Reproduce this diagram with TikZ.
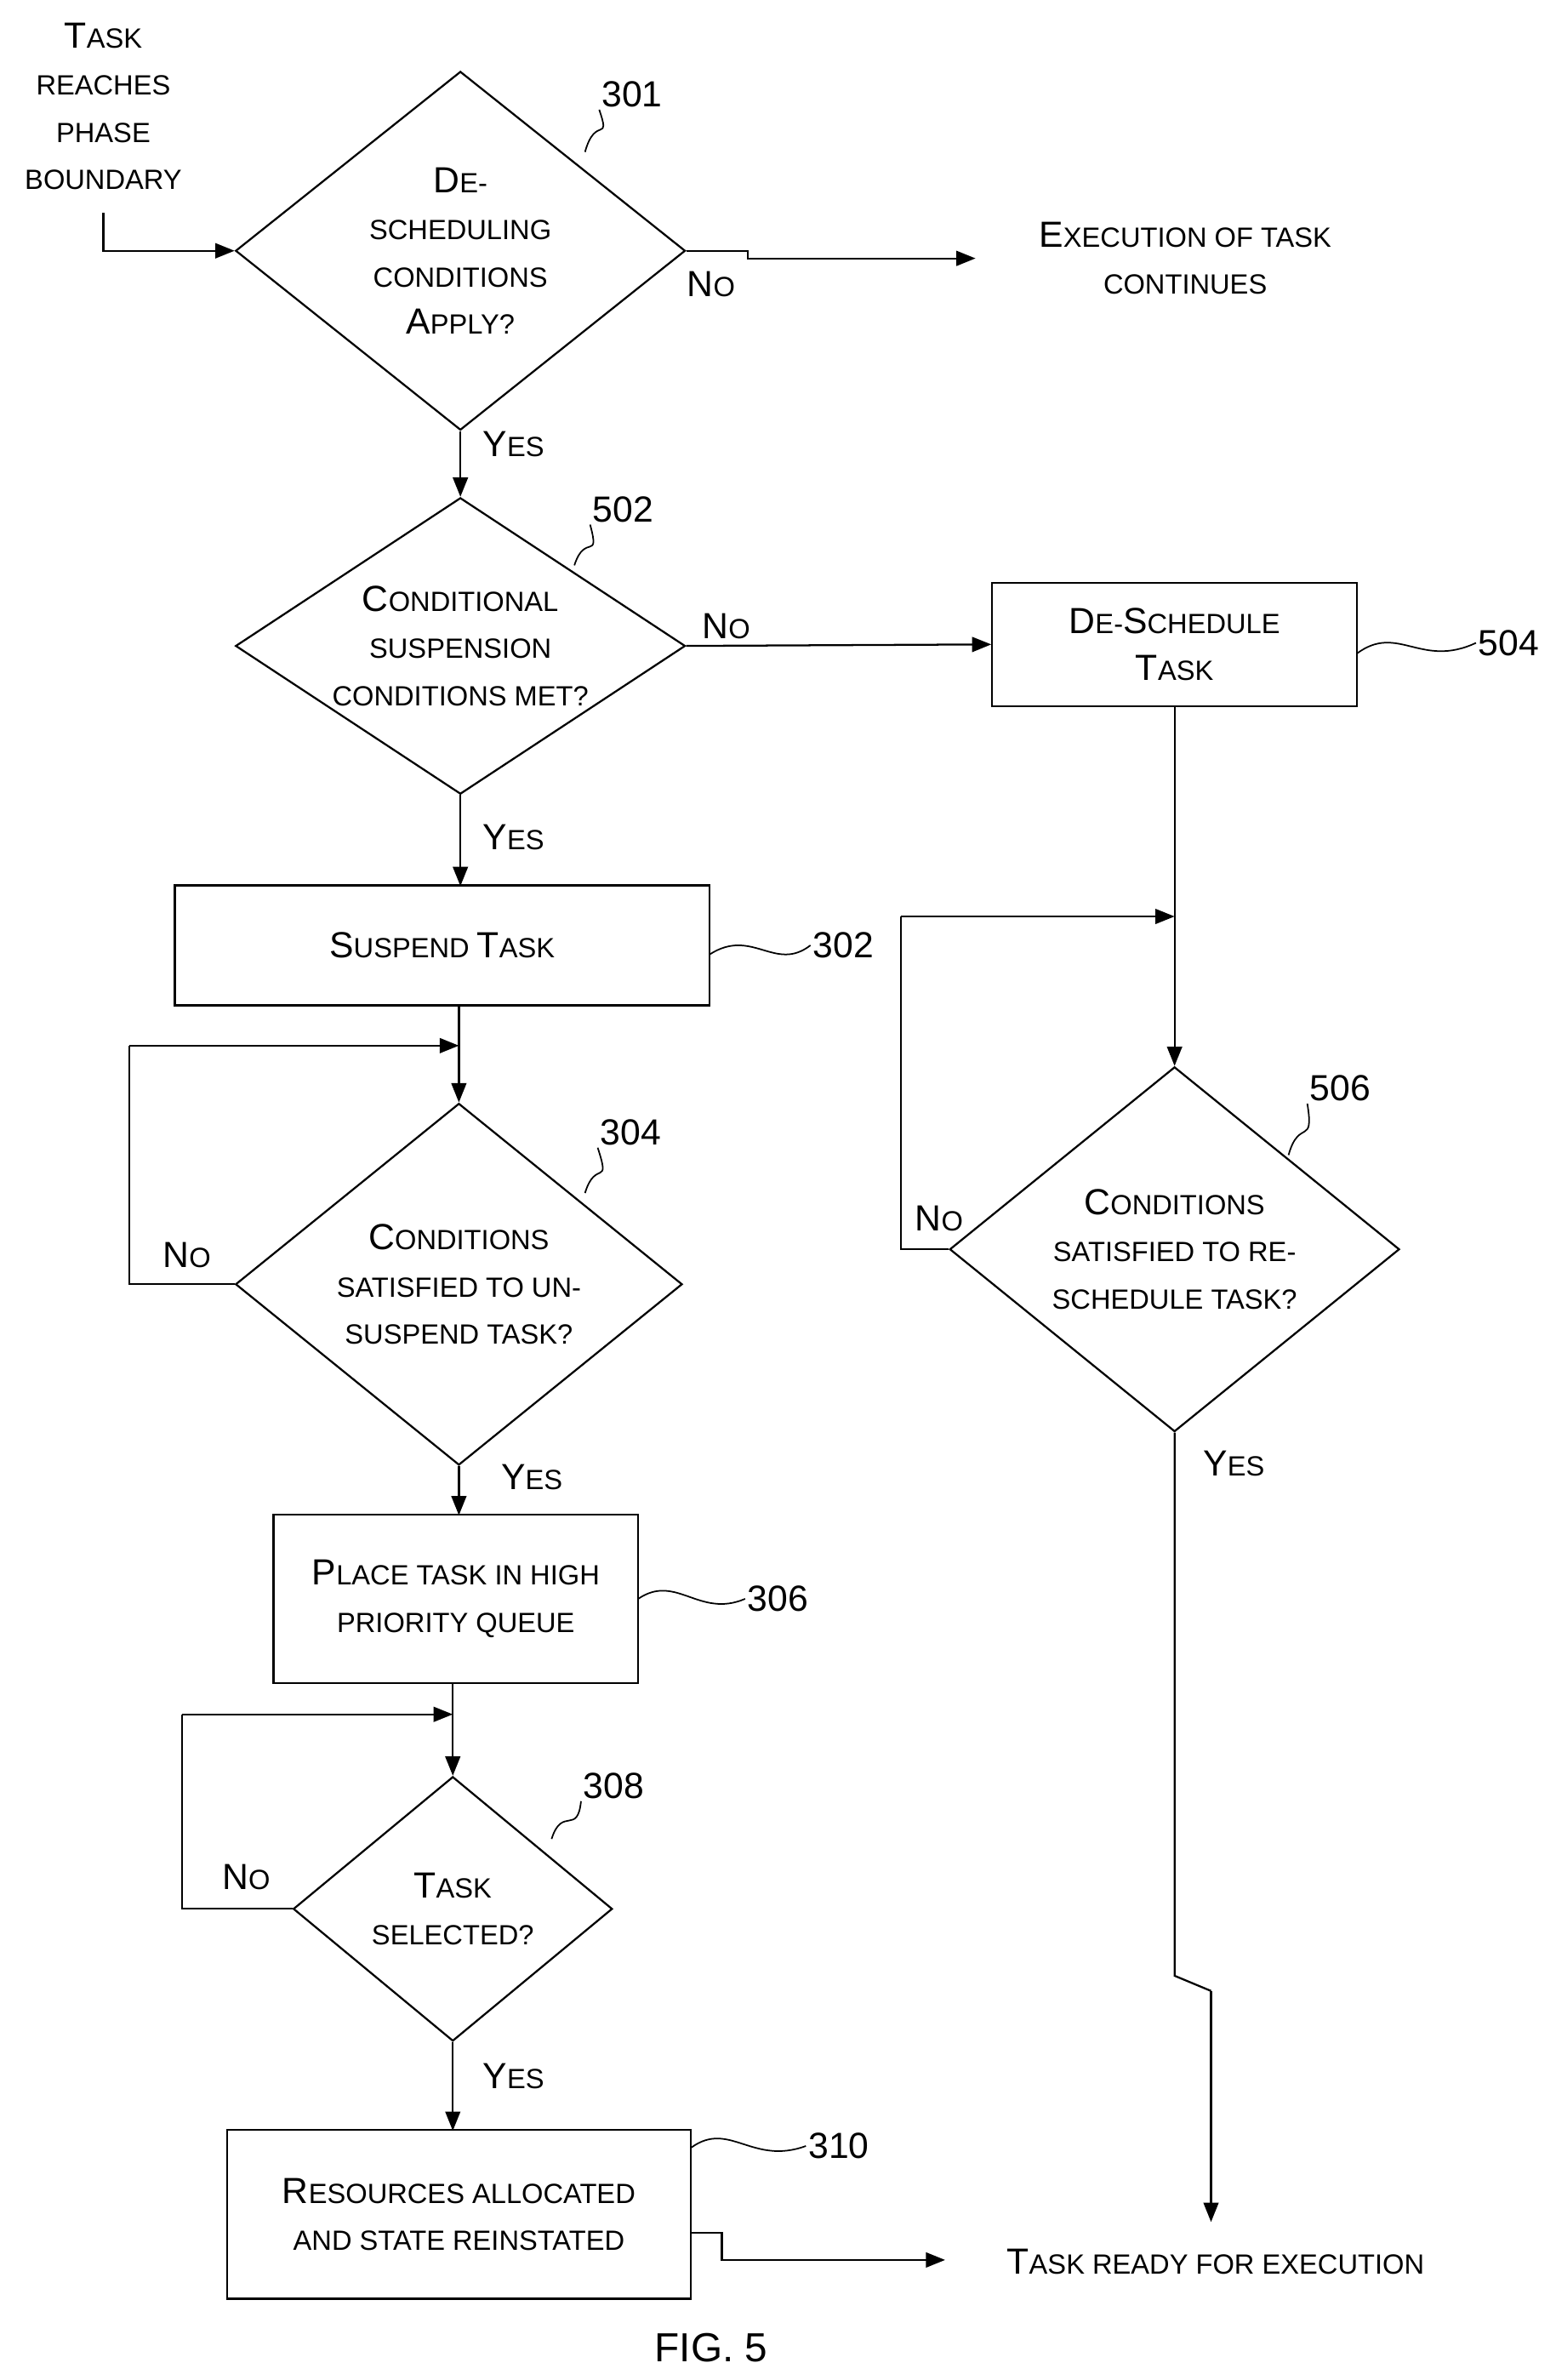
\documentclass[tikz,border=0pt]{standalone}
\usepackage{fontspec}
\setmainfont{Liberation Sans}
\usetikzlibrary{shapes.geometric,arrows.meta}
\newcommand{\C}[1]{{\fontsize{17}{22}\selectfont #1}}
\tikzset{
  lbl/.style={font=\fontsize{13}{22}\selectfont, align=center, inner sep=1pt},
  dia/.style={draw, shape=diamond, inner sep=0pt, line width=0.9pt},
  box/.style={draw, line width=0.9pt},
  flow/.style={-{Triangle[length=9pt,width=7pt]}, line width=0.9pt},
  line/.style={line width=0.9pt},
  wig/.style={line width=0.7pt}
}
\begin{document}
\begin{tikzpicture}[x=0.025cm,y=-0.025cm]
\useasboundingbox (0,0) rectangle (1024,1566);
% start
\node [lbl,name=start] at (68,70){\C{T}ASK\\REACHES\\PHASE\\BOUNDARY};
\node [dia,name=d301,minimum width=296*0.025cm,minimum height=236*0.025cm] at (303,165){};
\node [lbl] at (303,165){\C{D}E-\\SCHEDULING\\CONDITIONS\\\C{A}PPLY?};
\node [lbl,name=cont] at (780,170){\C{E}XECUTION OF TASK\\CONTINUES};
\coordinate (c0) at (68,140);
\coordinate (c1) at (642,170);
\draw[flow] (c0) |- (d301.west);
\draw[flow] (d301.east) -- (492,165) |- (c1);
\node [lbl] at (468,187){\C{N}O};
\node [lbl,name=n301] at (416,62){\C{3}\C{0}\C{1}};
% 502
\node [dia,name=d502,minimum width=296*0.025cm,minimum height=195*0.025cm] at (303,425){};
\node [lbl] at (303,425){\C{C}ONDITIONAL\\SUSPENSION\\CONDITIONS MET?};
\draw[flow] (d301.south) -- (d502.north);
\node [lbl] at (338,292){\C{Y}ES};
\node [lbl,name=n502] at (410,335){\C{5}\C{0}\C{2}};
\node [box,name=b504,minimum width=240*0.025cm,minimum height=81*0.025cm,lbl] at (773,424){\C{D}E-\C{S}CHEDULE\\\C{T}ASK};
\draw[flow] (d502.east) -- (b504.west);
\node [lbl] at (478,412){\C{N}O};
\node [lbl,name=n504] at (993,423){\C{5}\C{0}\C{4}};
% 302
\node [box,name=b302,minimum width=352*0.025cm,minimum height=79*0.025cm,lbl] at (291,622){\C{S}USPEND \C{T}ASK};
\draw[flow] (d502.south) -- (303,583);
\node [lbl] at (338,551){\C{Y}ES};
\node [lbl,name=n302] at (555,622){\C{3}\C{0}\C{2}};
% 304
\node [dia,name=d304,minimum width=294*0.025cm,minimum height=238*0.025cm] at (302,845){};
\node [lbl] at (302,845){\C{C}ONDITIONS\\SATISFIED TO UN-\\SUSPEND TASK?};
\draw[flow] (302,662) -- (d304.north);
\coordinate (l304) at (85,688);
\draw[line] (d304.west) -| (l304);
\draw[flow] (l304) -- (302,688);
\node [lbl] at (123,826){\C{N}O};
\node [lbl,name=n304] at (415,745){\C{3}\C{0}\C{4}};
% 306
\node [box,name=b306,minimum width=240*0.025cm,minimum height=111*0.025cm,lbl] at (300,1052){\C{P}LACE TASK IN HIGH\\PRIORITY QUEUE};
\draw[flow] (d304.south) -- (302,997);
\node [lbl] at (350,972){\C{Y}ES};
\node [lbl,name=n306] at (512,1052){\C{3}\C{0}\C{6}};
% 308
\node [dia,name=d308,minimum width=210*0.025cm,minimum height=174*0.025cm] at (298,1256){};
\node [lbl] at (298,1256){\C{T}ASK\\SELECTED?};
\draw[flow] (298,1108) -- (d308.north);
\coordinate (l308) at (120,1128);
\draw[line] (d308.west) -| (l308);
\draw[flow] (l308) -- (298,1128);
\node [lbl] at (162,1235){\C{N}O};
\node [lbl,name=n308] at (404,1175){\C{3}\C{0}\C{8}};
% 310
\node [box,name=b310,minimum width=305*0.025cm,minimum height=111*0.025cm,lbl] at (302,1457){\C{R}ESOURCES ALLOCATED\\AND STATE REINSTATED};
\draw[flow] (d308.south) -- (298,1402);
\node [lbl] at (338,1366){\C{Y}ES};
\node [lbl,name=n310] at (552,1412){\C{3}\C{1}\C{0}};
\node [lbl,name=ready] at (800,1488){\C{T}ASK READY FOR EXECUTION};
\coordinate (r1) at (622,1487);
\draw[flow] (b310.east) ++(0,12) -- (475,1469) |- (r1);
% 506
\node [dia,name=d506,minimum width=296*0.025cm,minimum height=240*0.025cm] at (773,822){};
\node [lbl] at (773,822){\C{C}ONDITIONS\\SATISFIED TO RE-\\SCHEDULE TASK?};
\draw[flow] (b504.south) -- (d506.north);
\coordinate (l506) at (593,603);
\draw[line] (d506.west) -| (l506);
\draw[flow] (l506) -- (773,603);
\node [lbl] at (618,802){\C{N}O};
\node [lbl] at (812,963){\C{Y}ES};
\node [lbl,name=n506] at (882,716){\C{5}\C{0}\C{6}};
\coordinate (j1) at (773,1300);
\coordinate (j2) at (797,1310);
\draw[line] (d506.south) -- (j1) -- (j2);
\draw[flow] (j2) -- (797,1462);
% reference squiggles
\draw[wig] (385,100) .. controls (392,75) and (402,95) .. (n301.south west);
\draw[wig] (378,372) .. controls (385,350) and (395,370) .. (n502.south west);
\draw[wig] (893,430) .. controls (920,410) and (935,440) .. (n504.west);
\draw[wig] (467,628) .. controls (495,610) and (510,640) .. (n302.west);
\draw[wig] (385,785) .. controls (392,762) and (402,782) .. (n304.south west);
\draw[wig] (420,1052) .. controls (445,1035) and (460,1065) .. (n306.west);
\draw[wig] (363,1210) .. controls (370,1188) and (380,1208) .. (n308.south west);
\draw[wig] (455,1413) .. controls (480,1395) and (495,1425) .. (n310.west);
\draw[wig] (848,760) .. controls (855,735) and (865,755) .. (n506.south west);
\node [font=\fontsize{19}{22}\selectfont,name=fig] at (468,1545){FIG. 5};
\end{tikzpicture}
\end{document}
